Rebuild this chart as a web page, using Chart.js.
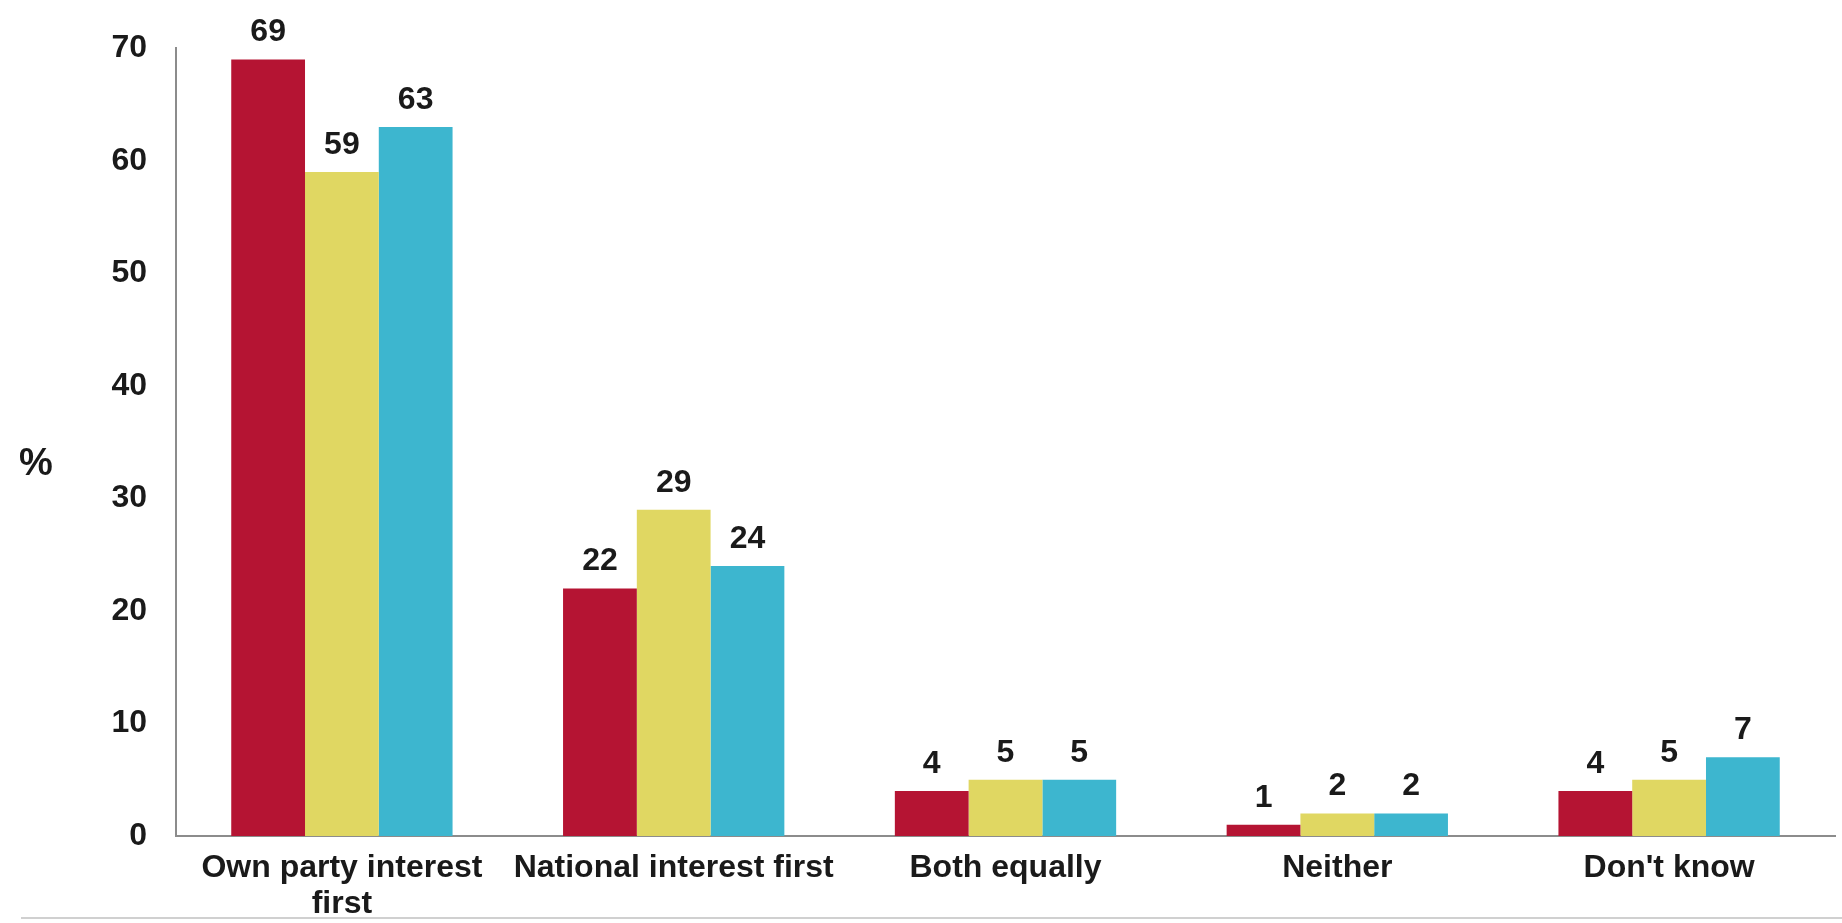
<!DOCTYPE html>
<html>
<head>
<meta charset="utf-8">
<script src="https://cdn.jsdelivr.net/npm/chart.js@4.4.1/dist/chart.umd.min.js"></script>
<style>
  html, body { margin: 0; padding: 0; background: #ffffff; }
  #wrap { position: relative; width: 1842px; height: 923px; }
</style>
</head>
<body>
<div id="wrap"><canvas id="c" width="1842" height="923"></canvas></div>
<script>
const categories = [
  ['Own party interest', 'first'],
  'National interest first',
  'Both equally',
  'Neither',
  "Don't know"
];
const seriesNames = ['Group 1', 'Group 2', 'Group 3'];
const series1 = [69, 22, 4, 1, 4];
const series2 = [59, 29, 5, 2, 5];
const series3 = [63, 24, 5, 2, 7];
const seriesColors = ['#B51433', '#E0D762', '#3DB6CF'];
const yTicks = [0, 10, 20, 30, 40, 50, 60, 70];
const axisTitle = '%';

const FONT = '"Liberation Sans", Arial, sans-serif';
const TEXT = '#1a1a1a';

const valueLabels = {
  id: 'valueLabels',
  afterDatasetsDraw(chart) {
    const ctx = chart.ctx;
    ctx.save();
    ctx.font = 'bold 32px ' + FONT;
    ctx.fillStyle = TEXT;
    ctx.textAlign = 'center';
    ctx.textBaseline = 'alphabetic';
    chart.data.datasets.forEach((ds, i) => {
      const meta = chart.getDatasetMeta(i);
      meta.data.forEach((bar, j) => {
        ctx.fillText(String(ds.data[j]), bar.x, bar.y - 18);
      });
    });
    ctx.restore();
  }
};

const extras = {
  id: 'extras',
  afterDraw(chart) {
    const ctx = chart.ctx;
    const a = chart.chartArea;
    ctx.save();
    ctx.font = 'bold 38px ' + FONT;
    ctx.fillStyle = TEXT;
    ctx.textAlign = 'center';
    ctx.textBaseline = 'middle';
    ctx.fillText(axisTitle, 36, (a.top + a.bottom) / 2 + 22);
    ctx.strokeStyle = '#d0d0d0';
    ctx.lineWidth = 2;
    ctx.beginPath();
    ctx.moveTo(21, 918);
    ctx.lineTo(chart.width, 918);
    ctx.stroke();
    ctx.restore();
  }
};

new Chart(document.getElementById('c'), {
  type: 'bar',
  data: {
    labels: categories,
    datasets: [series1, series2, series3].map((d, i) => ({
      label: seriesNames[i],
      data: d,
      backgroundColor: seriesColors[i],
      borderWidth: 0,
      barPercentage: 1.0,
      categoryPercentage: 0.667
    }))
  },
  options: {
    responsive: false,
    animation: false,
    devicePixelRatio: 1,
    layout: { padding: { left: 0, right: 7, top: 45, bottom: 0 } },
    plugins: {
      legend: { display: false },
      tooltip: { enabled: false },
      title: { display: false }
    },
    scales: {
      x: {
        grid: { display: false, drawTicks: false },
        border: { display: true, color: '#8c8c8c', width: 2 },
        ticks: {
          color: TEXT,
          font: { family: FONT, size: 32, weight: 'bold', lineHeight: 1.1 },
          padding: 15,
          maxRotation: 0,
          autoSkip: false
        },
        afterFit(scale) { scale.height = 87; }
      },
      y: {
        min: 0,
        max: 70,
        afterBuildTicks(scale) { scale.ticks = yTicks.map(v => ({ value: v })); },
        grid: { display: false, drawTicks: false },
        border: { display: true, color: '#8c8c8c', width: 2 },
        ticks: {
          color: TEXT,
          font: { family: FONT, size: 32, weight: 'bold' },
          padding: 29
        },
        afterFit(scale) { scale.width = 176; }
      }
    }
  },
  plugins: [valueLabels, extras]
});
</script>
</body>
</html>
